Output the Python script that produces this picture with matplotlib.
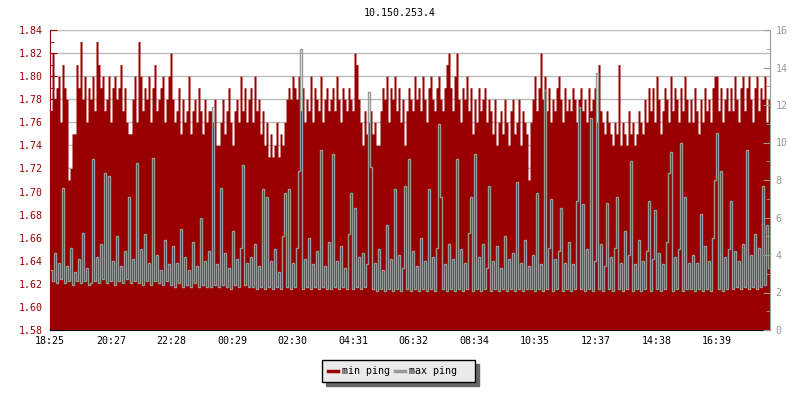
import numpy as np
import matplotlib
matplotlib.use("Agg")
import matplotlib.pyplot as plt
from matplotlib.lines import Line2D
from matplotlib.ticker import MultipleLocator

plt.rcParams["font.family"] = ["DejaVu Sans Mono"]
plt.rcParams["font.size"] = 7.2

title = "10.150.253.4"
start_label = "18:25"
step_minutes = 4
tick_labels = ["18:25", "20:27", "22:28", "00:29", "02:30", "04:31",
               "06:32", "08:34", "10:35", "12:37", "14:38", "16:39"]

# min ping (left axis, ms) - one sample per 4 minutes
min_ping = [
    1.77, 1.82, 1.78, 1.79, 1.80, 1.76, 1.81, 1.79, 1.78, 1.71, 1.72, 1.75, 1.75, 1.81, 1.79, 1.83, 1.78, 1.80, 1.76, 1.79,
    1.78, 1.80, 1.77, 1.83, 1.81, 1.79, 1.80, 1.77, 1.78, 1.80, 1.76, 1.79, 1.80, 1.78, 1.79, 1.81, 1.77, 1.79, 1.76, 1.75,
    1.75, 1.78, 1.80, 1.76, 1.83, 1.80, 1.77, 1.79, 1.78, 1.80, 1.76, 1.79, 1.81, 1.77, 1.78, 1.79, 1.80, 1.76, 1.78, 1.80,
    1.82, 1.78, 1.76, 1.77, 1.79, 1.75, 1.78, 1.76, 1.77, 1.80, 1.75, 1.77, 1.78, 1.76, 1.79, 1.77, 1.75, 1.78, 1.76, 1.77,
    1.77, 1.76, 1.78, 1.74, 1.74, 1.76, 1.78, 1.75, 1.77, 1.79, 1.76, 1.74, 1.77, 1.78, 1.76, 1.80, 1.77, 1.79, 1.76, 1.78,
    1.79, 1.76, 1.80, 1.77, 1.78, 1.75, 1.77, 1.74, 1.76, 1.73, 1.75, 1.73, 1.74, 1.76, 1.73, 1.75, 1.74, 1.76, 1.78, 1.79,
    1.78, 1.80, 1.79, 1.78, 1.80, 1.77, 1.79, 1.76, 1.78, 1.77, 1.80, 1.76, 1.79, 1.78, 1.77, 1.80, 1.76, 1.78, 1.79, 1.77,
    1.78, 1.79, 1.77, 1.80, 1.78, 1.76, 1.79, 1.78, 1.77, 1.79, 1.78, 1.77, 1.82, 1.81, 1.78, 1.76, 1.74, 1.77, 1.75, 1.76,
    1.77, 1.75, 1.76, 1.74, 1.74, 1.77, 1.79, 1.78, 1.80, 1.76, 1.79, 1.78, 1.80, 1.77, 1.79, 1.76, 1.78, 1.74, 1.77, 1.79,
    1.78, 1.77, 1.80, 1.78, 1.79, 1.77, 1.80, 1.78, 1.76, 1.79, 1.80, 1.78, 1.77, 1.79, 1.80, 1.78, 1.77, 1.79, 1.81, 1.82,
    1.79, 1.77, 1.80, 1.82, 1.78, 1.76, 1.79, 1.78, 1.80, 1.77, 1.79, 1.75, 1.78, 1.76, 1.79, 1.77, 1.78, 1.79, 1.76, 1.78,
    1.77, 1.75, 1.78, 1.74, 1.76, 1.77, 1.75, 1.78, 1.76, 1.74, 1.77, 1.78, 1.75, 1.76, 1.78, 1.74, 1.77, 1.76, 1.75, 1.71,
    1.76, 1.78, 1.80, 1.77, 1.79, 1.82, 1.78, 1.80, 1.77, 1.79, 1.76, 1.78, 1.77, 1.79, 1.80, 1.78, 1.76, 1.79, 1.77, 1.78,
    1.77, 1.79, 1.78, 1.76, 1.78, 1.79, 1.77, 1.78, 1.76, 1.79, 1.77, 1.78, 1.79, 1.76, 1.81, 1.77, 1.76, 1.75, 1.77, 1.76,
    1.75, 1.74, 1.76, 1.75, 1.81, 1.74, 1.76, 1.75, 1.74, 1.77, 1.75, 1.76, 1.74, 1.75, 1.77, 1.76, 1.75, 1.78, 1.76, 1.79,
    1.77, 1.79, 1.76, 1.80, 1.78, 1.75, 1.77, 1.79, 1.78, 1.76, 1.80, 1.77, 1.79, 1.78, 1.76, 1.79, 1.77, 1.80, 1.78, 1.76,
    1.78, 1.76, 1.79, 1.77, 1.75, 1.78, 1.76, 1.79, 1.77, 1.78, 1.76, 1.79, 1.80, 1.80, 1.77, 1.79, 1.76, 1.78, 1.79, 1.77,
    1.79, 1.77, 1.80, 1.78, 1.76, 1.79, 1.80, 1.77, 1.79, 1.80, 1.78, 1.76, 1.79, 1.80, 1.77, 1.79, 1.78, 1.80, 1.76, 1.78,
]

# max ping (right axis, ms)
max_ping = [
    3.2, 2.6, 4.1, 2.5, 3.6, 2.7, 7.6, 2.5, 3.4, 2.6, 4.4, 2.4, 3.1, 2.6, 3.8, 2.5, 5.2, 2.6, 3.3, 2.4,
    2.5, 9.1, 2.6, 3.9, 2.5, 4.6, 2.7, 8.4, 2.5, 8.2, 2.6, 3.7, 2.4, 5.0, 2.6, 3.4, 2.5, 4.2, 2.7, 7.1,
    2.5, 3.8, 2.6, 8.9, 2.5, 4.3, 2.4, 5.1, 2.6, 3.6, 2.4, 9.2, 2.6, 4.0, 2.5, 3.2, 2.4, 4.8, 2.6, 3.5,
    2.4, 4.5, 2.3, 3.6, 2.5, 5.4, 2.3, 3.9, 2.4, 3.2, 2.3, 4.7, 2.5, 3.4, 2.3, 6.0, 2.4, 3.7, 2.3, 4.2,
    2.3, 11.9, 2.4, 3.5, 2.3, 7.6, 2.4, 4.1, 2.3, 3.3, 2.2, 5.3, 2.4, 3.8, 2.3, 4.4, 8.8, 2.4, 3.6, 2.3,
    3.9, 2.3, 4.6, 2.2, 3.4, 2.3, 7.5, 2.2, 7.1, 2.3, 3.7, 2.2, 4.3, 2.3, 3.1, 2.2, 5.0, 7.3, 2.3, 7.5,
    2.2, 3.6, 2.3, 4.4, 8.5, 15.0, 2.2, 3.8, 2.3, 4.9, 2.2, 3.5, 2.3, 4.2, 2.2, 9.6, 2.3, 3.4, 2.2, 4.7,
    2.2, 9.4, 2.3, 3.7, 2.2, 4.5, 2.3, 3.3, 2.2, 5.1, 7.3, 2.2, 6.5, 2.3, 3.9, 2.2, 4.1, 2.3, 3.5, 12.7,
    8.7, 2.2, 3.6, 2.1, 4.3, 2.2, 3.2, 2.1, 5.6, 2.2, 3.8, 2.1, 7.5, 2.2, 4.0, 2.1, 3.3, 7.7, 2.2, 9.1,
    2.1, 4.2, 2.2, 3.4, 2.1, 4.9, 2.2, 3.7, 2.1, 7.5, 2.2, 3.9, 2.1, 4.4, 11.0, 7.1, 2.2, 3.5, 2.1, 4.6,
    2.2, 3.8, 2.1, 9.1, 2.2, 4.3, 2.1, 3.6, 2.2, 5.2, 7.1, 2.1, 9.4, 2.2, 3.9, 2.1, 4.6, 2.2, 3.3, 7.7,
    2.1, 3.7, 2.2, 4.5, 2.1, 3.3, 2.2, 5.0, 2.1, 3.8, 2.2, 4.1, 2.1, 7.9, 2.2, 3.6, 2.1, 4.8, 2.2, 3.4,
    2.2, 4.0, 2.1, 7.3, 2.2, 3.5, 2.1, 12.8, 2.2, 4.4, 7.0, 2.1, 3.8, 2.2, 4.2, 6.5, 2.1, 3.6, 2.2, 4.7,
    2.1, 3.5, 2.2, 6.9, 11.9, 2.2, 6.7, 2.1, 4.3, 2.2, 11.3, 2.1, 3.7, 13.7, 2.2, 4.6, 2.1, 3.4, 6.8, 2.2,
    3.9, 2.1, 4.4, 7.1, 2.2, 3.6, 2.1, 5.3, 2.2, 4.0, 9.0, 2.1, 3.5, 2.2, 4.8, 2.1, 3.7, 2.2, 4.2, 6.9,
    2.1, 3.8, 6.4, 2.2, 4.1, 2.1, 3.5, 2.2, 4.7, 8.4, 9.5, 2.1, 3.9, 2.2, 4.3, 10.0, 2.1, 7.1, 2.2, 3.6,
    2.2, 4.0, 2.1, 3.6, 2.2, 6.2, 2.1, 4.5, 2.2, 3.7, 2.1, 4.9, 8.0, 10.5, 2.2, 8.5, 2.1, 3.9, 2.2, 4.3,
    6.9, 2.2, 4.2, 2.3, 3.7, 2.2, 4.6, 2.3, 9.6, 2.2, 4.0, 2.3, 5.1, 2.2, 4.4, 2.3, 7.7, 2.4, 5.6, 3.3,
]

RED = "#990000"
GRAY = "#999999"


def minutes_from_start(label):
    h, m = map(int, label.split(":"))
    h0, m0 = map(int, start_label.split(":"))
    return (h * 60 + m - h0 * 60 - m0) % 1440


def main():
    n = len(min_ping)
    # sample edges / centres in minutes since start
    t = np.arange(n + 1) * step_minutes
    t_mid = (np.arange(n) + 0.5) * step_minutes
    y_min = np.append(min_ping, min_ping[-1])

    fig = plt.figure(figsize=(8, 4), dpi=100)
    ax = fig.add_axes([0.0625, 0.175, 0.9, 0.75])

    ax.fill_between(t, 1.58, y_min, step="post", color=RED, lw=0, zorder=2)
    ax.set_ylim(1.58, 1.84)
    ax.set_xlim(t[0], t[-1])
    ax.yaxis.set_major_locator(MultipleLocator(0.02))
    ax.yaxis.set_minor_locator(MultipleLocator(0.01))
    ax.yaxis.set_major_formatter(plt.FormatStrFormatter("%.2f"))
    ax.yaxis.grid(True, color="#bbbbbb", lw=1, zorder=0)
    ax.set_axisbelow(True)

    ax.set_xticks([minutes_from_start(s) for s in tick_labels])
    ax.set_xticklabels(tick_labels)

    ax.tick_params(axis="y", which="both", direction="in", colors=RED, pad=5)
    ax.tick_params(axis="y", which="major", length=5)
    ax.tick_params(axis="y", which="minor", length=3)
    ax.tick_params(axis="x", direction="in", length=5, pad=4, colors="black")
    ax.spines["left"].set_color(RED)
    ax.spines["top"].set_visible(False)
    ax.spines["right"].set_visible(False)

    # max ping on the right axis, drawn as a dense step line
    ax2 = ax.twinx()
    ax2.plot(t_mid, max_ping, drawstyle="steps-mid", color=GRAY, lw=1.0,
             zorder=3, solid_joinstyle="miter")
    ax2.set_ylim(0, 16)
    ax2.set_xlim(t[0], t[-1])
    ax2.yaxis.set_major_locator(MultipleLocator(2))
    ax2.yaxis.set_minor_locator(MultipleLocator(1))
    ax2.tick_params(axis="y", which="both", direction="in", colors=GRAY, pad=4)
    ax2.tick_params(axis="y", which="major", length=5)
    ax2.tick_params(axis="y", which="minor", length=3)
    for side in ["left", "top", "bottom"]:
        ax2.spines[side].set_visible(False)
    ax2.spines["right"].set_color(GRAY)

    fig.text(0.5, 1 - 13.5 / 400, title, ha="center", va="center")

    handles = [Line2D([], [], color=RED, lw=2.5), Line2D([], [], color=GRAY, lw=2.5)]
    leg = fig.legend(handles, ["min ping", "max ping  "], loc="center",
                     bbox_to_anchor=(0.498, 0.0725), ncol=2, frameon=True,
                     fancybox=False, edgecolor="black", facecolor="#eaeaea",
                     framealpha=1, handlelength=1.0, handletextpad=0.4,
                     columnspacing=0.5, borderpad=0.6,
                     shadow={"color": "#666666", "alpha": 1, "ox": 3, "oy": -3})
    leg.get_frame().set_linewidth(1)

    fig.savefig("out.png", dpi=100)


if __name__ == "__main__":
    main()
